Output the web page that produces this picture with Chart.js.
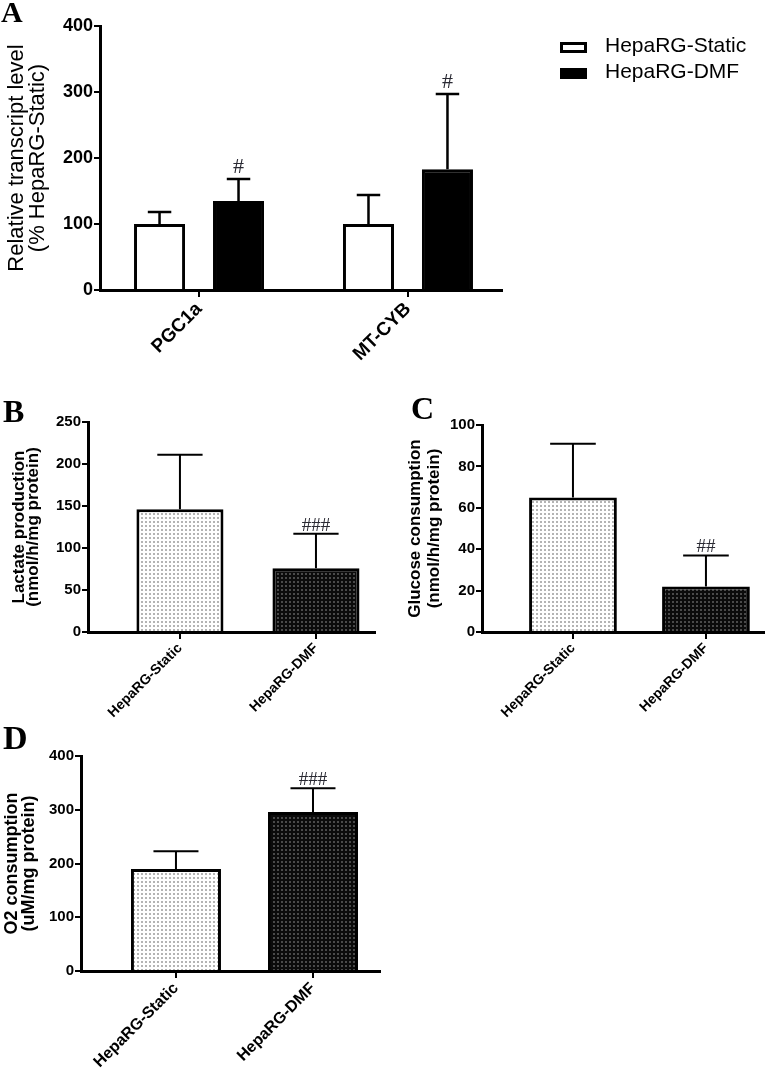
<!DOCTYPE html>
<html>
<head>
<meta charset="utf-8">
<script src="https://cdn.jsdelivr.net/npm/chart.js"></script>
<style>
body { margin: 0; background: #fff; }
#wrap { position: relative; width: 765px; height: 1071px; overflow: hidden; }
canvas { position: absolute; }
.panel { position: absolute; font-family: "Liberation Serif", "Times New Roman", serif; font-weight: bold; line-height: 1; color: #000; }
</style>
</head>
<body>
<div id="wrap">
	<canvas id="chartA" width="765" height="380" style="left:0;top:0"></canvas>
	<canvas id="chartB" width="380" height="360" style="left:0;top:380px"></canvas>
	<canvas id="chartC" width="370" height="360" style="left:395px;top:380px"></canvas>
	<canvas id="chartD" width="385" height="351" style="left:0;top:720px"></canvas>
	<div class="panel" style="left:1px;top:-3px;font-size:30px">A</div>
	<div class="panel" style="left:3px;top:395px;font-size:32px">B</div>
	<div class="panel" style="left:411px;top:392px;font-size:32px">C</div>
	<div class="panel" style="left:3px;top:721px;font-size:34px">D</div>
</div>
<script>
// 그룹 이름
var seriesNames = ['HepaRG-Static', 'HepaRG-DMF'];
var genesA = ['PGC1a', 'MT-CYB'];

// A: relative transcript level (mean, +SD)
var staticA = [100, 100];
var staticAErr = [18, 44];
var dmfA = [135, 183];
var dmfAErr = [33, 114];
var dmfAMarks = ['#', '#'];
var yTicksA = [0, 100, 200, 300, 400];

// B: lactate production
var lactate = [146, 76];
var lactateErr = [65, 41];
var lactateMarks = ['', '###'];
var yTicksB = [0, 50, 100, 150, 200, 250];

// C: glucose consumption
var glucose = [65, 22];
var glucoseErr = [26, 15];
var glucoseMarks = ['', '##'];
var yTicksC = [0, 20, 40, 60, 80, 100];

// D: O2 consumption
var oxygen = [190, 296];
var oxygenErr = [33, 44];
var oxygenMarks = ['', '###'];
var yTicksD = [0, 100, 200, 300, 400];

var SANS = '"Liberation Sans", Arial, sans-serif';
Chart.defaults.font.family = SANS;
Chart.defaults.color = '#000';

function toXY(values) {
	return values.map(function(v, i) { return { x: i + 1, y: v }; });
}

// 점무늬 패턴
function dots(bg, fg) {
	var c = document.createElement('canvas');
	c.width = 4;
	c.height = 4;
	var g = c.getContext('2d');
	g.fillStyle = bg;
	g.fillRect(0, 0, 4, 4);
	g.fillStyle = fg;
	g.fillRect(1, 1, 2, 2);
	return g.createPattern(c, 'repeat');
}
var dotStatic = dots('#ffffff', '#b4b4b4');
var dotDmf = dots('#0b0b0b', '#4a4a4a');

// 에러바 + # 표시
var errorBarPlugin = {
	id: 'errorBars',
	afterDatasetsDraw: function(chart, args, opts) {
		var ctx = chart.ctx;
		var yScale = chart.scales.y;
		chart.data.datasets.forEach(function(ds, di) {
			var meta = chart.getDatasetMeta(di);
			meta.data.forEach(function(bar, i) {
				var top = yScale.getPixelForValue(ds.data[i].y + ds.errors[i]);
				var half = bar.width * opts.capRatio / 2;
				ctx.save();
				ctx.strokeStyle = '#000';
				ctx.lineWidth = opts.lineWidth;
				ctx.beginPath();
				ctx.moveTo(bar.x, bar.y);
				ctx.lineTo(bar.x, top);
				ctx.moveTo(bar.x - half, top);
				ctx.lineTo(bar.x + half, top);
				ctx.stroke();
				if (ds.marks && ds.marks[i]) {
					ctx.fillStyle = '#2a2a33';
					ctx.font = opts.markFont;
					ctx.textAlign = 'center';
					ctx.textBaseline = 'alphabetic';
					ctx.fillText(ds.marks[i], bar.x, top - opts.markGap);
				}
				ctx.restore();
			});
		});
	}
};

// A 범례 (네모 + 글자)
var boxLegendPlugin = {
	id: 'boxLegend',
	afterDraw: function(chart, args, opts) {
		var ctx = chart.ctx;
		chart.data.datasets.forEach(function(ds, i) {
			var y = opts.top + i * opts.step;
			ctx.save();
			ctx.fillStyle = ds.backgroundColor;
			ctx.fillRect(opts.left, y, opts.boxW, opts.boxH);
			ctx.strokeStyle = '#000';
			ctx.lineWidth = 3;
			ctx.strokeRect(opts.left + 1.5, y + 1.5, opts.boxW - 3, opts.boxH - 3);
			ctx.fillStyle = '#000';
			ctx.font = opts.font;
			ctx.textBaseline = 'middle';
			ctx.fillText(ds.label, opts.left + opts.boxW + opts.gap, y + opts.boxH / 2 - 1);
			ctx.restore();
		});
	}
};

function makeOptions(cfg) {
	return {
		responsive: false,
		animation: false,
		layout: { padding: cfg.padding },
		categoryPercentage: cfg.catPct,
		barPercentage: cfg.barPct,
		plugins: {
			legend: { display: false },
			tooltip: { enabled: false },
			errorBars: cfg.err,
			boxLegend: cfg.legend || {}
		},
		scales: {
			x: {
				type: 'linear',
				min: cfg.xMin,
				max: cfg.xMax,
				bounds: 'data',
				offset: false,
				afterBuildTicks: function(s) {
					s.ticks = cfg.labels.map(function(l, i) { return { value: i + 1 }; });
				},
				afterFit: function(s) { s.height = cfg.xHeight; },
				grid: { display: true, offset: false, drawOnChartArea: false, drawTicks: true, tickLength: 7, color: '#000', lineWidth: 2 },
				border: { display: true, color: '#000', width: 3 },
				ticks: {
					autoSkip: false,
					minRotation: 45,
					maxRotation: 45,
					padding: 1,
					color: '#000',
					font: { size: cfg.xFont, weight: 'bold' },
					callback: function(v) { return cfg.labels[v - 1]; }
				}
			},
			y: {
				min: cfg.yTicks[0],
				max: cfg.yTicks[cfg.yTicks.length - 1],
				afterBuildTicks: function(s) {
					s.ticks = cfg.yTicks.map(function(v) { return { value: v }; });
				},
				afterFit: function(s) { s.width = cfg.yWidth; },
				grid: { display: true, drawOnChartArea: false, drawTicks: true, tickLength: 6, color: '#000', lineWidth: 2 },
				border: { display: true, color: '#000', width: 3 },
				ticks: { padding: 1, color: '#000', font: { size: cfg.yFont, weight: 'bold' } },
				title: {
					display: true,
					text: cfg.yTitle,
					color: '#000',
					font: cfg.titleFont,
					padding: { top: cfg.titlePad, bottom: 0 }
				}
			}
		}
	};
}

// A
new Chart(document.getElementById('chartA'), {
	type: 'bar',
	data: {
		datasets: [{
			label: seriesNames[0],
			data: toXY(staticA),
			errors: staticAErr,
			backgroundColor: '#ffffff',
			borderColor: '#000',
			borderWidth: 3,
			borderSkipped: 'start'
		}, {
			label: seriesNames[1],
			data: toXY(dmfA),
			errors: dmfAErr,
			marks: dmfAMarks,
			backgroundColor: '#000000',
			borderColor: '#000',
			borderWidth: 3,
			borderSkipped: 'start'
		}]
	},
	options: makeOptions({
		padding: { top: 26, right: 263, left: 0, bottom: 0 },
		catPct: 0.756, barPct: 0.646,
		xMin: 0.526, xMax: 2.45, xHeight: 90, xFont: 19,
		labels: genesA,
		yTicks: yTicksA, yWidth: 100, yFont: 18,
		yTitle: ['Relative transcript level', '(% HepaRG-Static)'],
		titleFont: { size: 22, weight: 'normal', lineHeight: 0.93 },
		titlePad: 7,
		err: { capRatio: 0.46, lineWidth: 2.5, markFont: '22px "Liberation Serif", serif', markGap: 6 },
		legend: { left: 560, top: 42, step: 26, boxW: 27, boxH: 11, gap: 18, font: '21px ' + SANS }
	}),
	plugins: [errorBarPlugin, boxLegendPlugin]
});

function singleChart(id, values, errs, marks, cfg) {
	new Chart(document.getElementById(id), {
		type: 'bar',
		data: {
			datasets: [{
				label: cfg.name,
				data: toXY(values),
				errors: errs,
				marks: marks,
				backgroundColor: [dotStatic, dotDmf],
				borderColor: '#000',
				borderWidth: 3,
				borderSkipped: 'start'
			}]
		},
		options: makeOptions(cfg),
		plugins: [errorBarPlugin]
	});
}

// B
singleChart('chartB', lactate, lactateErr, lactateMarks, {
	name: 'Lactate production',
	padding: { top: 42, right: 5, left: 0, bottom: 0 },
	catPct: 1, barPct: 0.64,
	xMin: 0.324, xMax: 2.434, xHeight: 108, xFont: 14,
	labels: seriesNames,
	yTicks: yTicksB, yWidth: 88, yFont: 15,
	yTitle: ['Lactate production', '(nmol/h/mg protein)'],
	titleFont: { size: 17, weight: 'bold', lineHeight: 0.824 },
	titlePad: 12,
	err: { capRatio: 0.52, lineWidth: 2, markFont: '19px "Liberation Serif", serif', markGap: 3 }
});

// C
singleChart('chartC', glucose, glucoseErr, glucoseMarks, {
	name: 'Glucose consumption',
	padding: { top: 45, right: 0, left: 0, bottom: 0 },
	catPct: 1, barPct: 0.66,
	xMin: 0.316, xMax: 2.444, xHeight: 108, xFont: 14,
	labels: seriesNames,
	yTicks: yTicksC, yWidth: 87, yFont: 15,
	yTitle: ['Glucose consumption', '(nmol/h/mg protein)'],
	titleFont: { size: 17, weight: 'bold', lineHeight: 1.118 },
	titlePad: 10.5,
	err: { capRatio: 0.52, lineWidth: 2, markFont: '19px "Liberation Serif", serif', markGap: 3 }
});

// D
singleChart('chartD', oxygen, oxygenErr, oxygenMarks, {
	name: 'O2 consumption',
	padding: { top: 36, right: 5, left: 0, bottom: 0 },
	catPct: 1, barPct: 0.657,
	xMin: 0.307, xMax: 2.489, xHeight: 100, xFont: 16,
	labels: seriesNames,
	yTicks: yTicksD, yWidth: 81, yFont: 15,
	yTitle: ['O2 consumption', '(uM/mg protein)'],
	titleFont: { size: 18, weight: 'bold', lineHeight: 0.944 },
	titlePad: 3.5,
	err: { capRatio: 0.5, lineWidth: 2, markFont: '19px "Liberation Serif", serif', markGap: 3 }
});
</script>
</body>
</html>
